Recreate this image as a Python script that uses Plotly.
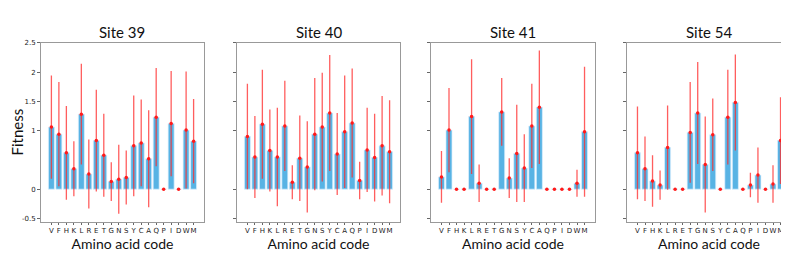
import plotly.graph_objects as go

aa = ["V","F","H","K","L","R","E","T","G","N","S","Y","C","A","Q","P","I","D","W","M"]
sites = ["Site 39", "Site 40", "Site 41", "Site 54"]

fit39 = [1.06,0.94,0.62,0.35,1.28,0.26,0.83,0.58,0.13,0.17,0.20,0.74,0.79,0.52,1.23,0.0,1.12,0.0,1.01,0.82]
err39 = [0.88,0.89,0.80,0.47,0.86,0.59,0.87,0.71,0.33,0.59,0.46,0.86,0.74,0.83,0.84,0.0,0.90,0.0,1.00,0.72]
fit40 = [0.90,0.55,1.11,0.66,0.55,1.08,0.12,0.53,0.38,0.94,1.06,1.30,0.60,0.98,1.13,0.15,0.67,0.54,0.74,0.64]
err40 = [0.90,0.70,0.93,0.70,0.84,0.77,0.29,0.73,0.78,0.96,0.93,0.99,0.70,0.96,0.93,0.32,0.72,0.75,0.85,0.88]
fit41 = [0.21,1.01,0.0,0.0,1.24,0.10,0.0,0.0,1.32,0.19,0.61,0.36,1.08,1.40,0.0,0.0,0.0,0.0,0.10,0.98]
err41 = [0.44,0.72,0.0,0.0,0.98,0.32,0.0,0.0,0.58,0.34,0.83,0.58,0.72,0.97,0.0,0.0,0.0,0.0,0.23,1.11]
fit54 = [0.62,0.35,0.14,0.07,0.71,0.0,0.0,0.97,1.30,0.42,0.93,0.0,1.23,1.48,0.0,0.07,0.24,0.0,0.09,0.83]
err54 = [0.79,0.55,0.44,0.25,0.72,0.0,0.0,0.86,0.87,0.82,0.62,0.0,0.81,0.82,0.0,0.21,0.47,0.0,0.32,0.74]

fits = [fit39, fit40, fit41, fit54]
errs = [err39, err40, err41, err54]
yticks = [-0.5, 0, 1, 1.5, 2, 2.5]
yticklabels = ["-0.5", "0", "1", "1.5", "2", "2.5"]

W, H = 789, 257
xpx = [(33, 196), (229, 392), (423, 587), (619, 783)]
ytop, ybot = 32, 214

fig = go.Figure()
layout = dict(
    width=W, height=H, margin=dict(l=0, r=0, t=0, b=0),
    paper_bgcolor="white", plot_bgcolor="white", showlegend=False,
    font=dict(family="Lato, Noto Sans, sans-serif", color="#111"),
)
annotations = []
xs = list(range(len(aa)))
for i in range(4):
    n = "" if i == 0 else str(i + 1)
    xa, ya = "x" + n, "y" + n
    fig.add_trace(go.Bar(
        x=xs, y=fits[i], width=0.8, xaxis=xa, yaxis=ya,
        marker=dict(color="#58B3E4", line=dict(color="rgba(220,240,255,0.9)", width=0.8)),
        hoverinfo="skip"))
    fig.add_trace(go.Scatter(
        x=xs, y=fits[i], mode="markers", xaxis=xa, yaxis=ya,
        marker=dict(color="#FF1A1A", size=3.5),
        error_y=dict(type="data", array=errs[i], visible=True,
                     color="rgba(255,40,40,0.75)", thickness=1.3, width=0)))
    d0, d1 = xpx[i][0] / W, xpx[i][1] / W
    layout["xaxis" + n] = dict(
        domain=[d0, d1], anchor=ya, range=[-1.39, 20.39],
        tickmode="array", tickvals=xs, ticktext=aa, tickangle=0,
        tickfont=dict(family="DejaVu Sans", size=7, color="#222"),
        ticks="outside", ticklen=2, tickcolor="#666",
        showgrid=False, zeroline=False,
        showline=True, linecolor="#999", linewidth=1, mirror=True,
        title=dict(text="Amino acid code", font=dict(size=14, family="Lato, sans-serif"), standoff=3),
    )
    layout["yaxis" + n] = dict(
        domain=[1 - ybot / H, 1 - ytop / H], anchor=xa, range=[-0.555, 2.505],
        tickmode="array", tickvals=yticks,
        ticktext=yticklabels if i == 0 else [""] * len(yticks),
        tickfont=dict(family="DejaVu Sans", size=7, color="#222"),
        ticks="outside", ticklen=3, tickcolor="#666",
        showgrid=False, zeroline=False,
        showline=True, linecolor="#999", linewidth=1, mirror=True,
    )
    if i == 0:
        layout["yaxis"]["title"] = dict(text="Fitness", font=dict(size=15, family="Lato, sans-serif"), standoff=3)
    annotations.append(dict(
        text=sites[i], x=(d0 + d1) / 2, y=1 - 21 / H, xref="paper", yref="paper",
        showarrow=False, font=dict(size=15, family="Lato, sans-serif", color="#111"),
        xanchor="center", yanchor="middle"))
layout["annotations"] = annotations
fig.update_layout(**layout)
fig.write_html("out.html")
